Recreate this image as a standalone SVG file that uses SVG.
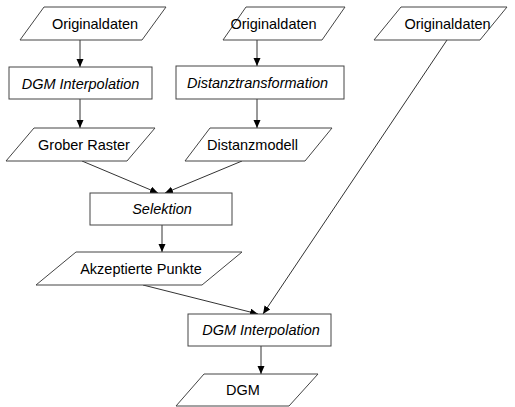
<svg xmlns="http://www.w3.org/2000/svg" width="515" height="407" viewBox="0 0 515 407">
<style>
  .shape { fill: #ffffff; stroke: #444444; stroke-width: 1; }
  .lbl { font-family: "Liberation Sans", Arial, sans-serif; font-size: 14.5px; fill: #000000; text-anchor: middle; }
  .it { font-style: italic; }
  .conn { stroke: #333333; stroke-width: 1; fill: none; marker-end: url(#arrow); }
</style>
<defs>
  <marker id="arrow" markerUnits="userSpaceOnUse" markerWidth="9" markerHeight="8" refX="8" refY="3.5" orient="auto">
    <path d="M0,0 L8,3.5 L0,7 z" fill="#000000"/>
  </marker>
</defs>
<rect width="515" height="407" fill="#ffffff"/>

<g id="connectors">
  <line class="conn" x1="80" y1="40" x2="80" y2="67"/>
  <line class="conn" x1="80" y1="99" x2="80" y2="128"/>
  <line class="conn" x1="257" y1="40" x2="257" y2="66"/>
  <line class="conn" x1="257" y1="99" x2="257" y2="128"/>
  <line class="conn" x1="82" y1="161" x2="158" y2="193"/>
  <line class="conn" x1="242" y1="161" x2="165" y2="193"/>
  <line class="conn" x1="162" y1="225" x2="162" y2="252"/>
  <line class="conn" x1="143" y1="285" x2="258" y2="314"/>
  <line class="conn" x1="447" y1="40" x2="263" y2="314"/>
  <line class="conn" x1="261" y1="346" x2="261" y2="374"/>
</g>

<g id="orig1">
  <polygon class="shape" points="44,7 166,7 142,40 20,40"/>
  <text class="lbl" x="95" y="29">Originaldaten</text>
</g>
<g id="dgm_interp1">
  <rect class="shape" x="9" y="67" width="143" height="32"/>
  <text class="lbl it" x="80.5" y="88.5">DGM Interpolation</text>
</g>
<g id="grober_raster">
  <polygon class="shape" points="34,128 155,128 127,161 6,161"/>
  <text class="lbl" x="84" y="149.5">Grober Raster</text>
</g>

<g id="orig2">
  <polygon class="shape" points="246,7 345,7 322,40 223,40"/>
  <text class="lbl" x="273.5" y="29">Originaldaten</text>
</g>
<g id="distanztrans">
  <rect class="shape" x="176" y="66" width="168" height="33"/>
  <text class="lbl it" x="257.5" y="88">Distanztransformation</text>
</g>
<g id="distanzmodell">
  <polygon class="shape" points="210,128 332,128 305,161 185,161"/>
  <text class="lbl" x="252.5" y="149.5">Distanzmodell</text>
</g>

<g id="orig3">
  <polygon class="shape" points="401,7 507,7 480,40 374,40"/>
  <text class="lbl" x="447.5" y="29">Originaldaten</text>
</g>

<g id="selektion">
  <rect class="shape" x="90" y="193" width="142" height="32"/>
  <text class="lbl it" x="162" y="214">Selektion</text>
</g>
<g id="akzeptierte">
  <polygon class="shape" points="76,252 242,252 202,285 36,285"/>
  <text class="lbl" x="141" y="273.5">Akzeptierte Punkte</text>
</g>
<g id="dgm_interp2">
  <rect class="shape" x="188" y="314" width="143" height="32"/>
  <text class="lbl it" x="261" y="335">DGM Interpolation</text>
</g>
<g id="dgm">
  <polygon class="shape" points="204,374 318,374 289,406 176,406"/>
  <text class="lbl" x="243" y="395">DGM</text>
</g>
</svg>
